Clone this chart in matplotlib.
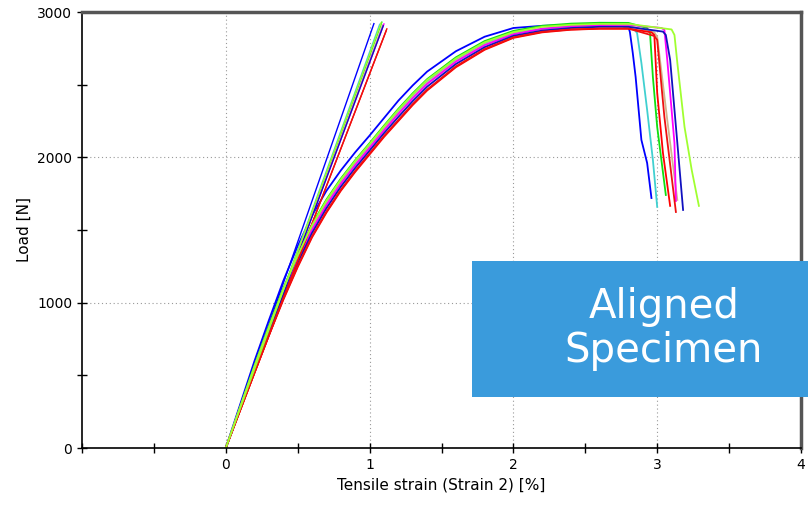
import matplotlib.pyplot as plt
from matplotlib.patches import Rectangle
from matplotlib.ticker import MultipleLocator

# цвета образцов
colors = ['#0000ff', '#40d0d0', '#10e010', '#d2b48c', '#ff00ff',
          '#1010c0', '#ff0000', '#ee1010', '#a0ff30']

# прямые участки (модуль): конечные точки
line_end_strain = [1.03, 1.07, 1.085, 1.09, 1.10, 1.095, 1.12, 1.115, 1.08]
line_end_load = [2920, 2915, 2930, 2910, 2918, 2905, 2884, 2870, 2925]

# общие точки деформации для восходящей части кривых
rise_strain = [0, 0.1, 0.2, 0.3, 0.4, 0.5, 0.6, 0.7, 0.8, 0.9, 1.0, 1.1, 1.2,
               1.3, 1.4, 1.6, 1.8, 2.0, 2.2, 2.4, 2.6]

rise_load = [
    [0, 300, 600, 880, 1150, 1390, 1600, 1770, 1910, 2035, 2150, 2270, 2390,
     2495, 2590, 2730, 2830, 2890, 2905, 2910, 2910],
    [0, 280, 560, 828, 1085, 1318, 1525, 1695, 1840, 1968, 2085, 2205, 2320,
     2428, 2525, 2675, 2785, 2856, 2885, 2900, 2905],
    [0, 284, 568, 838, 1098, 1332, 1540, 1710, 1854, 1981, 2098, 2218, 2334,
     2441, 2538, 2688, 2800, 2870, 2905, 2920, 2926],
    [0, 276, 552, 817, 1072, 1303, 1510, 1680, 1826, 1954, 2072, 2192, 2306,
     2414, 2512, 2664, 2776, 2850, 2884, 2900, 2906],
    [0, 274, 548, 812, 1065, 1296, 1502, 1672, 1819, 1947, 2065, 2185, 2299,
     2407, 2505, 2658, 2772, 2847, 2885, 2902, 2910],
    [0, 268, 536, 796, 1046, 1274, 1480, 1650, 1798, 1927, 2046, 2166, 2278,
     2387, 2486, 2642, 2758, 2836, 2872, 2890, 2898],
    [0, 260, 520, 775, 1020, 1245, 1450, 1620, 1770, 1900, 2020, 2140, 2250,
     2360, 2460, 2620, 2740, 2822, 2860, 2878, 2885],
    [0, 262, 524, 780, 1026, 1252, 1457, 1627, 1777, 1907, 2027, 2147, 2257,
     2367, 2466, 2626, 2745, 2826, 2864, 2880, 2886],
    [0, 282, 564, 833, 1092, 1325, 1533, 1703, 1847, 1975, 2092, 2212, 2327,
     2434, 2532, 2680, 2792, 2862, 2898, 2912, 2918],
]

# плато и падение нагрузки после разрушения
tail_strain = [
    [2.75, 2.80, 2.81, 2.83, 2.85, 2.89, 2.93, 2.96],
    [2.75, 2.84, 2.86, 2.89, 2.93, 2.97, 3.00],
    [2.80, 2.93, 2.95, 2.97, 3.00, 3.06],
    [2.80, 2.98, 3.00, 3.07, 3.14],
    [2.80, 3.03, 3.05, 3.07, 3.12, 3.13],
    [2.80, 3.04, 3.06, 3.09, 3.14, 3.18],
    [2.80, 2.96, 2.98, 3.00, 3.04, 3.09],
    [2.80, 2.98, 3.00, 3.05, 3.13],
    [2.80, 3.10, 3.12, 3.14, 3.19, 3.24, 3.29],
]
tail_load = [
    [2905, 2895, 2863, 2719, 2553, 2120, 1961, 1720],
    [2905, 2880, 2856, 2650, 2326, 1982, 1659],
    [2925, 2890, 2856, 2553, 2209, 1741],
    [2905, 2860, 2829, 2257, 1707],
    [2912, 2890, 2877, 2670, 2099, 1700],
    [2898, 2865, 2842, 2670, 2099, 1638],
    [2885, 2860, 2842, 2443, 2030, 1666],
    [2886, 2835, 2808, 2278, 1624],
    [2918, 2880, 2842, 2650, 2209, 1913, 1666],
]

fig = plt.figure(figsize=(8.08, 5.08), dpi=100)
ax = fig.add_axes([82 / 808, 1 - 448 / 508, (801 - 82) / 808, (448 - 12) / 508])

for i, c in enumerate(colors):
    ax.plot([0, line_end_strain[i]], [0, line_end_load[i]], color=c, lw=1.0)
    xs = rise_strain + tail_strain[i]
    ys = rise_load[i] + tail_load[i]
    ax.plot(xs, ys, color=c, lw=1.3)

ax.set_xlim(-1, 4)
ax.set_ylim(0, 3000)
ax.set_xticks([0, 1, 2, 3, 4])
ax.xaxis.set_minor_locator(MultipleLocator(0.5))
ax.set_yticks([0, 1000, 2000, 3000])
ax.yaxis.set_minor_locator(MultipleLocator(500))
ax.tick_params(which='both', direction='inout', length=7, width=1, labelsize=10)
ax.grid(True, which='major', color='#999999', linestyle=(0, (1, 2.5)), lw=0.8)

for s in ['left', 'bottom']:
    ax.spines[s].set_linewidth(1.2)
for s in ['top', 'right']:
    ax.spines[s].set_color('#555555')
    ax.spines[s].set_linewidth(2.5)

ax.set_xlabel('Tensile strain (Strain 2) [%]', fontsize=11)
ax.set_ylabel('Load [N]', fontsize=11)

# подпись в синем прямоугольнике
fig.patches.append(Rectangle((472 / 808, 1 - 397 / 508), 340 / 808, 136 / 508,
                             transform=fig.transFigure, facecolor='#3a9bdc',
                             edgecolor='none', zorder=5))
fig.text(664 / 808, 1 - 329 / 508, 'Aligned\nSpecimen', color='white',
         fontsize=29, ha='center', va='center', linespacing=1.15, zorder=6)

fig.savefig('out.png', dpi=100)
